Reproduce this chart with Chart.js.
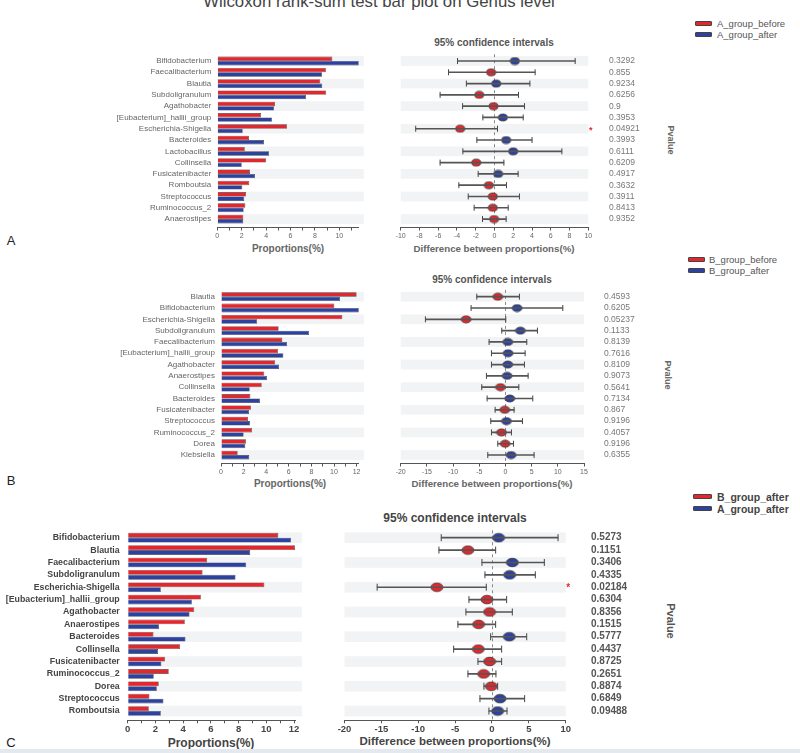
<!DOCTYPE html>
<html>
<head>
<meta charset="utf-8">
<title>Wilcoxon rank-sum test bar plot on Genus level</title>
<script src="https://cdn.jsdelivr.net/npm/chart.js@4.4.1/dist/chart.umd.min.js"></script>
<style>
  html, body { margin: 0; padding: 0; background: #fff; }
  #fig { position: relative; width: 800px; height: 753px; overflow: hidden; font-family: "Liberation Sans", Arial, sans-serif; }
  #fig canvas { position: absolute; }
  .txt { position: absolute; white-space: nowrap; line-height: 1; transform: translate(-50%, -50%); color: #555; }
  .lt  { position: absolute; white-space: nowrap; line-height: 1; transform: translateY(-50%); color: #555; }
  .pv  { transform: translate(-50%, -50%) rotate(90deg); }
  .key { position: absolute; border: 1px solid #444; box-sizing: border-box; border-radius: 1px; }
  .b   { font-weight: bold; }
</style>
</head>
<body>
<div id="fig">
  <div class="txt" style="left:379px;top:2px;font-size:16.8px;color:#444">Wilcoxon rank-sum test bar plot on Genus level</div>

  <!-- A -->
  <div class="txt b" style="left:494px;top:43px;font-size:10px">95% confidence intervals</div>
  <div class="txt b" style="left:288px;top:248.5px;font-size:10px;color:#666">Proportions(%)</div>
  <div class="txt b" style="left:494px;top:248.5px;font-size:9.7px;color:#666">Difference between proportions(%)</div>
  <div class="txt" style="left:11px;top:240px;font-size:13px;color:#222">A</div>
  <div class="txt pv b" style="left:670px;top:140px;font-size:9px;color:#666">Pvalue</div>
  <div class="key" style="left:695px;top:21px;width:17px;height:5px;background:#e5262c"></div>
  <div class="lt" style="left:717px;top:23.5px;font-size:9.5px">A_group_before</div>
  <div class="key" style="left:695px;top:32px;width:17px;height:5px;background:#2c42a2"></div>
  <div class="lt" style="left:717px;top:34.5px;font-size:9.5px">A_group_after</div>

  <!-- B -->
  <div class="txt b" style="left:492px;top:280px;font-size:10px">95% confidence intervals</div>
  <div class="txt b" style="left:290px;top:484px;font-size:10px;color:#666">Proportions(%)</div>
  <div class="txt b" style="left:492px;top:484px;font-size:9.7px;color:#666">Difference between proportions(%)</div>
  <div class="txt" style="left:11px;top:480px;font-size:13px;color:#222">B</div>
  <div class="txt pv b" style="left:667px;top:375px;font-size:9px;color:#666">Pvalue</div>
  <div class="key" style="left:688px;top:257px;width:17px;height:5px;background:#e5262c"></div>
  <div class="lt" style="left:709px;top:259.5px;font-size:9.5px">B_group_before</div>
  <div class="key" style="left:688px;top:268px;width:17px;height:5px;background:#2c42a2"></div>
  <div class="lt" style="left:709px;top:270.5px;font-size:9.5px">B_group_after</div>

  <!-- C -->
  <div class="txt b" style="left:455px;top:518px;font-size:12px;color:#444">95% confidence intervals</div>
  <div class="txt b" style="left:211px;top:742.5px;font-size:12px;color:#444">Proportions(%)</div>
  <div class="txt b" style="left:455px;top:742px;font-size:11.5px;color:#444">Difference between proportions(%)</div>
  <div class="txt" style="left:11px;top:742px;font-size:13px;color:#222">C</div>
  <div class="txt pv b" style="left:670px;top:621px;font-size:11px;color:#555">Pvalue</div>
  <div class="key" style="left:693px;top:494px;width:19px;height:5px;background:#e5262c"></div>
  <div class="lt b" style="left:717px;top:496.5px;font-size:10.5px;color:#444">B_group_after</div>
  <div class="key" style="left:693px;top:506px;width:19px;height:5px;background:#2c42a2"></div>
  <div class="lt b" style="left:717px;top:508.5px;font-size:10.5px;color:#444">A_group_after</div>

  <div style="position:absolute;left:0;top:749px;width:800px;height:4px;background:#e4e9ef"></div>

  <canvas id="barA"></canvas><canvas id="ciA"></canvas>
  <canvas id="barB"></canvas><canvas id="ciB"></canvas>
  <canvas id="barC"></canvas><canvas id="ciC"></canvas>
</div>

<script>
/* ── Panel A: A_group_before (red) vs A_group_after (blue) ── */
const generaA = ['Bifidobacterium', 'Faecalibacterium', 'Blautia', 'Subdoligranulum', 'Agathobacter',
  '[Eubacterium]_hallii_group', 'Escherichia-Shigella', 'Bacteroides', 'Lactobacillus', 'Collinsella',
  'Fusicatenibacter', 'Romboutsia', 'Streptococcus', 'Ruminococcus_2', 'Anaerostipes'];
const beforeA = [9.43, 8.9, 8.44, 8.93, 4.73, 3.58, 5.71, 2.6, 2.25, 3.99, 2.68, 2.62, 2.35, 2.3, 2.13];
const afterA  = [11.6, 8.58, 8.6, 7.27, 4.65, 4.48, 2.08, 3.83, 4.24, 2.0, 3.09, 2.05, 2.21, 2.16, 2.13];
const diffA   = [2.17, -0.36, 0.18, -1.63, -0.1, 0.89, -3.66, 1.24, 1.99, -1.95, 0.39, -0.6, -0.18, -0.18, -0.04];
const lowA    = [-3.94, -4.9, -3.0, -5.8, -3.4, -1.24, -8.4, -1.88, -3.37, -5.8, -1.74, -3.8, -2.8, -2.17, -1.28];
const highA   = [8.6, 4.33, 3.77, 2.56, 3.2, 3.06, 0.32, 4.0, 7.18, 1.0, 2.52, 1.28, 2.66, 1.46, 1.24];
const pA      = ['0.3292', '0.855', '0.9234', '0.6256', '0.9', '0.3953', '0.04921', '0.3993', '0.6111',
  '0.6209', '0.4917', '0.3632', '0.3911', '0.8413', '0.9352'];
const propTicksA = [0, 2, 4, 6, 8, 10];
const diffTicksA = [-10, -8, -6, -4, -2, 0, 2, 4, 6, 8, 10];

/* ── Panel B: B_group_before (red) vs B_group_after (blue) ── */
const generaB = ['Blautia', 'Bifidobacterium', 'Escherichia-Shigella', 'Subdoligranulum', 'Faecalibacterium',
  '[Eubacterium]_hallii_group', 'Agathobacter', 'Anaerostipes', 'Collinsella', 'Bacteroides',
  'Fusicatenibacter', 'Streptococcus', 'Ruminococcus_2', 'Dorea', 'Klebsiella'];
const beforeB = [12.0, 10.03, 10.74, 5.1, 5.43, 5.04, 4.78, 3.83, 3.6, 2.6, 2.65, 2.39, 2.74, 2.21, 1.47];
const afterB  = [10.53, 12.2, 3.19, 7.79, 5.84, 5.52, 5.13, 4.07, 2.54, 3.45, 2.48, 2.57, 2.0, 2.15, 2.5];
const diffB   = [-1.46, 2.23, -7.51, 2.86, 0.45, 0.51, 0.45, 0.32, -0.95, 0.83, -0.13, 0.19, -0.76, -0.05, 1.08];
const lowB    = [-5.47, -6.56, -15.28, -0.7, -3.12, -2.67, -2.67, -3.63, -4.52, -3.5, -1.97, -2.8, -2.67, -1.46, -3.37];
const highB   = [2.67, 10.95, 0.06, 6.11, 4.07, 3.76, 3.63, 4.33, 2.55, 5.22, 1.65, 3.25, 1.15, 1.53, 5.47];
const pB      = ['0.4593', '0.6205', '0.05237', '0.1133', '0.8139', '0.7616', '0.8109', '0.9073', '0.5641',
  '0.7134', '0.867', '0.9196', '0.4057', '0.9196', '0.6355'];
const propTicksB = [0, 2, 4, 6, 8, 10, 12];
const diffTicksB = [-20, -15, -10, -5, 0, 5, 10, 15];

/* ── Panel C: B_group_after (red) vs A_group_after (blue) ── */
const generaC = ['Bifidobacterium', 'Blautia', 'Faecalibacterium', 'Subdoligranulum', 'Escherichia-Shigella',
  '[Eubacterium]_hallii_group', 'Agathobacter', 'Anaerostipes', 'Bacteroides', 'Collinsella',
  'Fusicatenibacter', 'Ruminococcus_2', 'Dorea', 'Streptococcus', 'Romboutsia'];
const bAfterC = [10.87, 12.07, 5.73, 5.4, 9.86, 5.28, 4.8, 4.12, 1.86, 3.78, 2.7, 2.96, 2.24, 1.57, 1.52];
const aAfterC = [11.78, 8.84, 8.55, 7.78, 2.39, 4.63, 4.46, 2.27, 4.17, 2.19, 2.43, 1.88, 2.1, 2.58, 2.39];
const diffC   = [0.9, -3.26, 2.76, 2.4, -7.47, -0.68, -0.32, -1.81, 2.35, -1.86, -0.32, -1.13, -0.09, 1.09, 0.77];
const lowC    = [-6.88, -7.19, -1.36, -0.95, -15.57, -3.12, -3.53, -4.62, -0.18, -5.2, -1.9, -3.26, -1.09, -1.63, -0.41];
const highC   = [8.96, 0.5, 7.1, 5.88, -0.77, 1.99, 2.76, 0.5, 4.71, 1.31, 1.31, 0.54, 0.77, 4.43, 2.04];
const pC      = ['0.5273', '0.1151', '0.3406', '0.4335', '0.02184', '0.6304', '0.8356', '0.1515', '0.5777',
  '0.4437', '0.8725', '0.2651', '0.8874', '0.6849', '0.09488'];
const propTicksC = [0, 2, 4, 6, 8, 10, 12];
const diffTicksC = [-20, -15, -10, -5, 0, 5, 10];

/* ── Look ── */
const RED = '#e5262c', BLUE = '#2c42a2';
const FAMILY = '"Liberation Sans", Arial, sans-serif';
const ROW_MIN = -0.6, ROW_MAX = 14.75;   // row axis range (rows are 0..14)

/* ── Panel placement in the 800x753 figure (px) ── */
const layoutA = { rowTop: 61,    rowStep: 11.29, barLeft: 217.3, barUnit: 12.2,  barMax: 11.6, barTickMax: 11,
  bandExtra: 5,   ciLeft: 400.7, ciRight: 588.3, ciMin: -10, ciMax: 10, pGap: 20.7, dot: [9, 7],   cap: 3,   big: false };
const layoutB = { rowTop: 296.7, rowStep: 11.31, barLeft: 221,   barUnit: 11.3,  barMax: 12.2, barTickMax: 12,
  bandExtra: 5,   ciLeft: 400.7, ciRight: 584,   ciMin: -20, ciMax: 15, pGap: 20,   dot: [10, 7],  cap: 3,   big: false };
const layoutC = { rowTop: 537.7, rowStep: 12.38, barLeft: 127.7, barUnit: 13.86, barMax: 12.1, barTickMax: 12,
  bandExtra: 6.5, ciLeft: 344.5, ciRight: 565.7, ciMin: -20, ciMax: 10, pGap: 25.3, dot: [12, 8.5], cap: 3.5, big: true };

Chart.defaults.font.family = FAMILY;

function fonts(big) {
  return big
    ? { label: { size: 8.8, weight: 'bold' }, labelColor: '#444', tick: { size: 9.5, weight: 'bold' }, tickColor: '#444',
        p: { size: 10, weight: 'bold' }, pColor: '#555', xh: 20, tickPad: 0 }
    : { label: { size: 8 }, labelColor: '#666', tick: { size: 7 }, tickColor: '#666',
        p: { size: 8.5 }, pColor: '#777', xh: 17, tickPad: 1 };
}

/* ── Plugins ── */
const bandPlugin = {
  id: 'bands',
  beforeDatasetsDraw(chart, args, opts) {
    const { ctx, chartArea, scales: { y } } = chart;
    const step = Math.abs(y.getPixelForValue(1) - y.getPixelForValue(0));
    ctx.save();
    ctx.fillStyle = '#f2f3f5';
    for (let i = 0; i < opts.rows; i += 2) {
      const cy = y.getPixelForValue(i);
      ctx.fillRect(chartArea.left, cy - step * 0.43, chartArea.right + (opts.extra || 0) - chartArea.left, step * 0.86);
    }
    ctx.restore();
  }
};

const zeroPlugin = {
  id: 'zero',
  beforeDatasetsDraw(chart) {
    const { ctx, chartArea, scales: { x } } = chart;
    const px = Math.round(x.getPixelForValue(0)) + 0.5;
    ctx.save();
    ctx.strokeStyle = '#8a8a8a';
    ctx.lineWidth = 1;
    ctx.setLineDash([3, 3]);
    ctx.beginPath();
    ctx.moveTo(px, chartArea.top);
    ctx.lineTo(px, chartArea.bottom);
    ctx.stroke();
    ctx.restore();
  }
};

const starPlugin = {
  id: 'stars',
  afterDatasetsDraw(chart, args, opts) {
    const { ctx, chartArea, scales: { y } } = chart;
    ctx.save();
    ctx.fillStyle = RED;
    ctx.font = `bold ${opts.size}px ${FAMILY}`;
    ctx.textAlign = 'center';
    ctx.textBaseline = 'middle';
    opts.pvals.forEach((p, i) => {
      if (parseFloat(p) < 0.05) ctx.fillText('*', chartArea.right + 2.5, y.getPixelForValue(i) + 1.5);
    });
    ctx.restore();
  }
};

function dotImage(w, h, fill) {
  const c = document.createElement('canvas');
  c.width = Math.ceil(w) + 2; c.height = Math.ceil(h) + 2;
  const g = c.getContext('2d');
  g.beginPath();
  g.ellipse(c.width / 2, c.height / 2, w / 2, h / 2, 0, 0, Math.PI * 2);
  g.fillStyle = fill; g.fill();
  g.lineWidth = 0.8; g.strokeStyle = '#333'; g.stroke();
  return c;
}

function place(cv, left, top, w, h) {
  cv.width = w; cv.height = h;
  Object.assign(cv.style, { left: left + 'px', top: top + 'px', width: w + 'px', height: h + 'px' });
}

/* ── Proportion bars (left half of a panel) ── */
function drawBars(id, genera, red, blue, labelTicks, L) {
  const F = fonts(L.big);
  const caL = L.barLeft, caR = L.barLeft + L.barMax * L.barUnit;
  const caT = L.rowTop + ROW_MIN * L.rowStep, caB = L.rowTop + ROW_MAX * L.rowStep;
  const top = Math.floor(caT) - 6, W = Math.ceil(caR) + 12, H = Math.ceil(caB + F.xh) - top + 2;
  const cv = document.getElementById(id);
  place(cv, 0, top, W, H);

  const minor = [];
  for (let v = 0; v <= L.barTickMax; v++) minor.push({ value: v });

  new Chart(cv, {
    type: 'bar',
    data: {
      datasets: [
        { data: red.map((v, i) => ({ x: v, y: i })),  backgroundColor: RED,  borderColor: '#444', borderWidth: 0.6 },
        { data: blue.map((v, i) => ({ x: v, y: i })), backgroundColor: BLUE, borderColor: '#444', borderWidth: 0.6 },
      ],
    },
    options: {
      indexAxis: 'y', responsive: false, animation: false, events: [],
      layout: { padding: { left: 0, right: W - caR, top: caT - top, bottom: H - (caB - top) - F.xh } },
      datasets: { bar: { categoryPercentage: 0.78, barPercentage: 1 } },
      plugins: { legend: { display: false }, tooltip: { enabled: false }, bands: { rows: genera.length, extra: L.bandExtra } },
      scales: {
        x: {
          type: 'linear', min: 0, max: L.barMax,
          afterBuildTicks: s => { s.ticks = minor.map(t => ({ ...t })); },
          afterFit: s => { s.height = F.xh; s.paddingLeft = 0; s.paddingRight = 0; },
          ticks: { callback: v => labelTicks.includes(v) ? String(v) : '', font: F.tick, color: F.tickColor,
                   padding: F.tickPad, maxRotation: 0, autoSkip: false },
          grid: { drawOnChartArea: false, drawTicks: true, tickLength: 3, tickColor: '#555' },
          border: { display: true, color: '#555', width: 1 },
        },
        y: {
          type: 'linear', reverse: true, min: ROW_MIN, max: ROW_MAX, offset: false,
          afterBuildTicks: s => { s.ticks = genera.map((g, i) => ({ value: i })); },
          afterFit: s => { s.width = caL; s.paddingTop = 0; s.paddingBottom = 0; },
          ticks: { callback: v => genera[v], font: F.label, color: F.labelColor, padding: L.big ? 8 : 6, autoSkip: false },
          grid: { display: false, drawTicks: false, offset: false },
          border: { display: false },
        },
      },
    },
    plugins: [bandPlugin],
  });
}

/* ── Confidence-interval plot with p-values (right half of a panel) ── */
function drawCI(id, diff, low, high, pvals, labelTicks, L) {
  const F = fonts(L.big);
  const caT = L.rowTop + ROW_MIN * L.rowStep, caB = L.rowTop + ROW_MAX * L.rowStep;
  const left = Math.floor(L.ciLeft) - 24, right = 662;
  const top = Math.floor(caT) - 6, W = right - left, H = Math.ceil(caB + F.xh) - top + 2;
  const cv = document.getElementById(id);
  place(cv, left, top, W, H);

  const redDot = dotImage(L.dot[0], L.dot[1], RED), blueDot = dotImage(L.dot[0], L.dot[1], BLUE);
  const cap = { type: 'scatter', yAxisID: 'y', pointStyle: 'line', rotation: 90, radius: L.cap,
                borderColor: '#444', borderWidth: 1, clip: false };

  new Chart(cv, {
    type: 'bar',
    data: {
      datasets: [
        { type: 'bar', yAxisID: 'y', data: low.map((lo, i) => ({ x: [lo, high[i]], y: i })),
          backgroundColor: '#555', barThickness: 1, borderWidth: 0 },
        { ...cap, data: low.map((lo, i) => ({ x: lo, y: i })) },
        { ...cap, data: high.map((hi, i) => ({ x: hi, y: i })) },
        { type: 'scatter', yAxisID: 'y', data: diff.map((d, i) => ({ x: d, y: i })), radius: 4, clip: false,
          pointStyle: ctx => diff[ctx.dataIndex] >= 0 ? blueDot : redDot },
      ],
    },
    options: {
      indexAxis: 'y', responsive: false, animation: false, events: [],
      layout: { padding: { left: L.ciLeft - left, right: 0, top: caT - top, bottom: H - (caB - top) - F.xh } },
      plugins: {
        legend: { display: false }, tooltip: { enabled: false },
        bands: { rows: diff.length, extra: 0 },
        stars: { pvals, size: L.big ? 10 : 9 },
      },
      scales: {
        x: {
          type: 'linear', min: L.ciMin, max: L.ciMax,
          afterBuildTicks: s => { s.ticks = labelTicks.map(v => ({ value: v })); },
          afterFit: s => { s.height = F.xh; s.paddingLeft = 0; s.paddingRight = 0; },
          ticks: { callback: v => String(v), font: F.tick, color: F.tickColor, padding: F.tickPad, maxRotation: 0, autoSkip: false },
          grid: { drawOnChartArea: false, drawTicks: true, tickLength: 3, tickColor: '#555' },
          border: { display: true, color: '#555', width: 1 },
        },
        y: { type: 'linear', reverse: true, min: ROW_MIN, max: ROW_MAX, offset: false, display: false },
        y2: {
          type: 'linear', position: 'right', reverse: true, min: ROW_MIN, max: ROW_MAX, offset: false,
          afterBuildTicks: s => { s.ticks = pvals.map((p, i) => ({ value: i })); },
          afterFit: s => { s.width = right - left - (L.ciRight - left); s.paddingTop = 0; s.paddingBottom = 0; },
          ticks: { callback: v => pvals[v], font: F.p, color: F.pColor, padding: L.pGap, autoSkip: false },
          grid: { display: false, drawTicks: false },
          border: { display: false },
        },
      },
    },
    plugins: [bandPlugin, zeroPlugin, starPlugin],
  });
}

drawBars('barA', generaA, beforeA, afterA, propTicksA, layoutA);
drawCI('ciA', diffA, lowA, highA, pA, diffTicksA, layoutA);
drawBars('barB', generaB, beforeB, afterB, propTicksB, layoutB);
drawCI('ciB', diffB, lowB, highB, pB, diffTicksB, layoutB);
drawBars('barC', generaC, bAfterC, aAfterC, propTicksC, layoutC);
drawCI('ciC', diffC, lowC, highC, pC, diffTicksC, layoutC);
</script>
</body>
</html>
